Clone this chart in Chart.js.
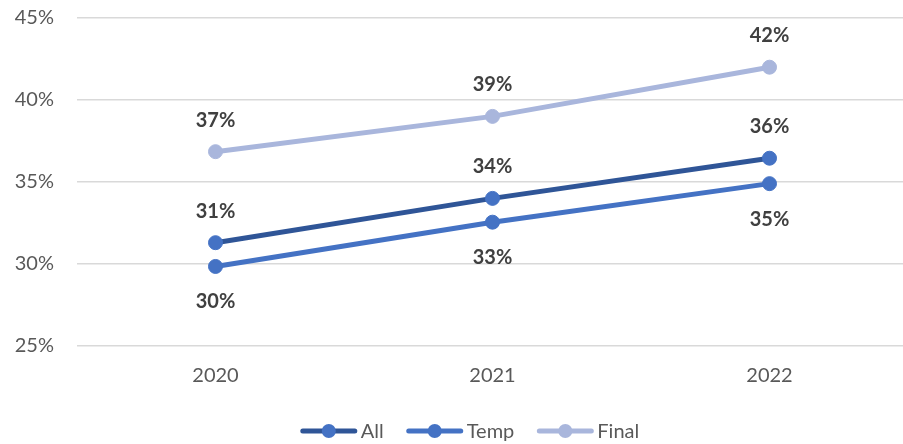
<!DOCTYPE html>
<html>
<head>
<meta charset="utf-8">
<script src="https://cdn.jsdelivr.net/npm/chart.js@4.4.1/dist/chart.umd.min.js"></script>
<style>
  html, body { margin: 0; padding: 0; background: #ffffff; overflow: hidden; }
  #wrap { position: relative; width: 903px; height: 444px; overflow: hidden; }
  canvas { display: block; }
</style>
</head>
<body>
<div id="wrap"><canvas id="chart" width="916" height="444"></canvas></div>
<script>
// Share of contracts by year (percent)
const categories = ['2020', '2021', '2022'];
const allValues = [31.3, 34.0, 36.45];
const tempValues = [29.85, 32.55, 34.9];
const finalValues = [36.85, 39.0, 42.0];
const yTicks = [25, 30, 35, 40, 45];

const FONT = 'Lato, "Open Sans", "Liberation Sans", sans-serif';

// Series styling; label side: -1 above the point, +1 below it
const series = [
  { label: 'All',   data: allValues,   line: '#2F5597', point: '#4472C4', side: -1 },
  { label: 'Temp',  data: tempValues,  line: '#4472C4', point: '#4472C4', side: 1 },
  { label: 'Final', data: finalValues, line: '#A9B6DC', point: '#A9B6DC', side: -1 }
];

// Bold value labels above or below each point
const valueLabels = {
  id: 'valueLabels',
  afterDatasetsDraw(chart) {
    const ctx = chart.ctx;
    ctx.save();
    ctx.font = 'bold 20px ' + FONT;
    ctx.fillStyle = '#404040';
    ctx.textAlign = 'center';
    ctx.textBaseline = 'alphabetic';
    chart.data.datasets.forEach((ds, i) => {
      const meta = chart.getDatasetMeta(i);
      const side = series[i].side;
      meta.data.forEach((pt, j) => {
        const text = Math.round(ds.data[j]) + '%';
        const cy = pt.y + (side < 0 ? -32 : 35);
        ctx.fillText(text, pt.x, cy + 7);
      });
    });
    ctx.restore();
  }
};

// Legend with a line segment and a marker for each series
const lineLegend = {
  id: 'lineLegend',
  afterDraw(chart) {
    const ctx = chart.ctx;
    ctx.save();
    ctx.font = '20px ' + FONT;
    const segW = 56, gapText = 4, gapItem = 23, cy = 431;
    const widths = series.map(s => ctx.measureText(s.label).width);
    const total = widths.reduce((a, w) => a + segW + gapText + w, 0) + gapItem * (series.length - 1);
    let x = 470 - total / 2;
    series.forEach((s, i) => {
      ctx.strokeStyle = s.line;
      ctx.lineWidth = 5;
      ctx.lineCap = 'round';
      ctx.beginPath();
      ctx.moveTo(x + 2, cy);
      ctx.lineTo(x + segW - 2, cy);
      ctx.stroke();
      ctx.fillStyle = s.point;
      ctx.beginPath();
      ctx.arc(x + segW / 2, cy, 7, 0, Math.PI * 2);
      ctx.fill();
      ctx.fillStyle = '#595959';
      ctx.textAlign = 'left';
      ctx.textBaseline = 'middle';
      ctx.fillText(s.label, x + segW + gapText, cy + 1);
      x += segW + gapText + widths[i] + gapItem;
    });
    ctx.restore();
  }
};

new Chart(document.getElementById('chart'), {
  type: 'line',
  data: {
    labels: categories,
    datasets: series.map(s => ({
      label: s.label,
      data: s.data,
      borderColor: s.line,
      backgroundColor: s.point,
      borderWidth: 5,
      pointRadius: 7,
      pointBorderWidth: 1,
      pointBorderColor: s.point,
      pointBackgroundColor: s.point,
      tension: 0,
      fill: false
    }))
  },
  options: {
    responsive: false,
    maintainAspectRatio: false,
    animation: false,
    events: [],
    layout: { padding: { top: 18, right: 0, bottom: 0, left: 0 } },
    plugins: {
      legend: { display: false },
      tooltip: { enabled: false }
    },
    scales: {
      x: {
        offset: true,
        grid: { display: false, drawTicks: false },
        border: { display: false },
        ticks: { color: '#595959', font: { family: FONT, size: 20 }, padding: 18 },
        afterFit(scale) { scale.height = 98; }
      },
      y: {
        min: 25,
        max: 45,
        afterBuildTicks(scale) { scale.ticks = yTicks.map(v => ({ value: v })); },
        grid: { color: '#D9D9D9', lineWidth: 1.5, drawTicks: true, tickLength: 23, tickColor: 'rgba(0,0,0,0)' },
        border: { display: false },
        ticks: {
          color: '#595959',
          font: { family: FONT, size: 20 },
          padding: 0,
          callback: v => v + '%'
        },
        afterFit(scale) { scale.width = 77; }
      }
    }
  },
  plugins: [valueLabels, lineLegend]
});
</script>
</body>
</html>
